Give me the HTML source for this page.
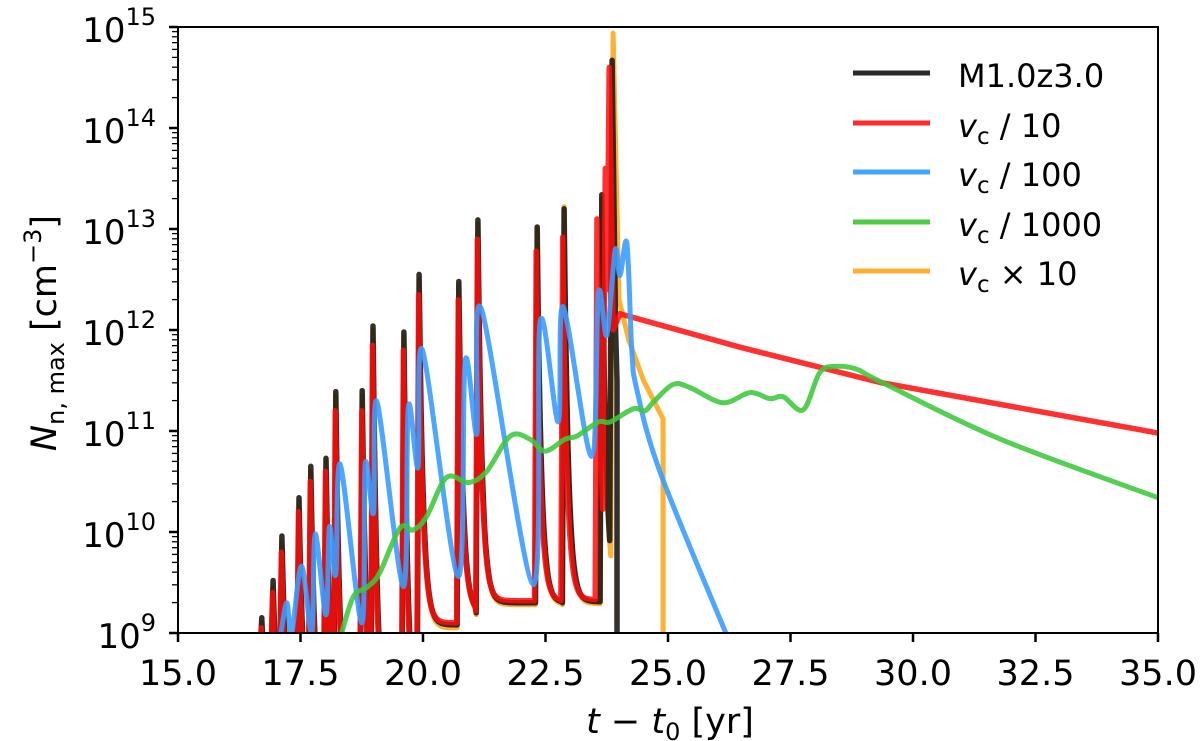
<!DOCTYPE html>
<html><head><meta charset="utf-8"><style>
body{margin:0;background:#fff;}
svg{display:block;font-family:"DejaVu Sans","Liberation Sans",sans-serif;}
</style></head><body>
<svg id="chart" width="1200" height="741" viewBox="0 0 1200 741">
<g id="plot"></g>
<g id="axes"></g>
</svg>
<script>
// ---- data ----
const xTicks=[15,17.5,20,22.5,25,27.5,30,32.5,35];
const xTickLabels=["15.0","17.5","20.0","22.5","25.0","27.5","30.0","32.5","35.0"];
const yTicks=[9,10,11,12,13,14,15];
const yTickExp=["9","10","11","12","13","14","15"];
// spiky series: peak time, peak log10, floor log10 after decay
const blackT=[16.71,16.94,17.12,17.47,17.71,18.02,18.22,18.76,18.98,19.61,19.92,20.73,21.12,22.33,22.88,23.65];
const blackPeak=[9.15,9.52,9.96,10.34,10.65,10.73,11.39,11.40,12.04,11.98,12.55,12.48,13.09,13.02,13.20,13.34];
const blackFloor=[8,8,8,8,8,8,8,8,8,8,9.08,9.2,9.3,9.3,9.31,9.3];
const blackEndT=[23.86,23.93,23.96,23.96];
const blackEndV=[14.67,12.0,11.5,8];
const redT=[16.70,16.93,17.11,17.46,17.70,18.01,18.21,18.75,18.97,19.60,19.91,20.72,21.11,22.31,22.85,23.55];
const redPeak=[9.05,9.4,9.8,10.2,10.5,10.6,11.2,11.2,11.85,11.8,12.35,12.3,12.9,12.78,12.92,13.1];
const redFloor=[8,8,8,8,8,8,8,8,8,8,9.1,9.22,9.32,9.32,9.33,9.3];
const redEndT=[23.72,23.76,23.80,23.84,23.88,24.02,26.47,29.33,32.5,35];
const redEndV=[13.6,12.4,14.6,13.4,12.0,12.16,11.83,11.48,11.2,10.98];
const orangeT=blackT.slice();
const orangePeak=[9.1,9.45,9.9,10.3,10.6,10.7,11.35,11.35,12.0,11.95,12.5,12.45,13.05,13.0,13.22,13.3];
const orangeFloor=[8,8,8,8,8,8,8,8,8,8,9.05,9.18,9.28,9.28,9.29,9.28];
const orangeEndT=[23.88,24.0,24.2,24.5,24.9,24.9];
const orangeEndV=[14.94,12.3,11.9,11.5,11.12,8];
const blueT=[17.10,17.22,17.32,17.52,17.73,17.80,18.02,18.09,18.22,18.31,18.75,18.82,18.99,19.06,19.60,19.70,19.90,19.99,20.72,20.86,21.10,21.19,22.25,22.39,22.76,22.86,23.44,23.58,23.75,23.92,24.02,24.16,24.26,24.36,24.84,26.18];
const blueV=[9.0,9.30,9.0,9.66,9.0,9.98,9.18,10.05,9.58,10.67,9.10,10.67,10.19,11.29,9.46,11.24,10.64,11.80,9.56,11.69,10.97,12.21,9.48,12.08,11.09,12.23,10.75,12.36,11.95,12.79,12.54,12.86,11.82,11.42,10.59,9.0];
const greenT=[18.34,18.58,18.88,19.12,19.53,19.80,20.07,20.48,20.93,21.30,21.78,22.18,22.49,22.90,23.14,23.58,23.82,24.29,24.53,24.69,25.10,25.45,26.12,26.67,27.08,27.35,27.76,28.10,28.45,28.86,29.33,31.78,35];
const greenV=[9.0,9.36,9.46,9.60,10.04,10.02,10.15,10.54,10.49,10.60,10.95,10.92,10.80,10.92,10.95,11.09,11.09,11.22,11.20,11.28,11.46,11.43,11.28,11.38,11.32,11.34,11.21,11.58,11.64,11.61,11.49,10.92,10.34];

// ---- scales ----
const X0=178,X1=1158,Y0=633,Y1=27;
const xs=t=>X0+(t-15)/20*(X1-X0);
const ys=v=>Y0-(v-9)/6*(Y0-Y1);
const NS="http://www.w3.org/2000/svg";
const plot=document.getElementById('plot'),axes=document.getElementById('axes');
function mk(tag,attrs,parent){const e=document.createElementNS(NS,tag);for(const k in attrs)e.setAttribute(k,attrs[k]);parent.appendChild(e);return e;}

const defs=mk('defs',{},plot);
const cp=mk('clipPath',{id:'clip'},defs);
mk('rect',{x:X0,y:Y1-12,width:X1-X0,height:Y0-Y1+12},cp);
const g=mk('g',{'clip-path':'url(#clip)'},plot);

function spikePts(T,P,F,endT,endV){
  const pts=[];let prev=8;
  for(let i=0;i<T.length;i++){
    const t=T[i];
    pts.push([t-0.035,prev]);
    pts.push([t,P[i]]);
    const nextT=(i+1<T.length)?T[i+1]:endT[0];
    for(let d=0.02;t+d<nextT-0.04;d+=0.02){
      pts.push([t+d,F[i]+(P[i]-F[i])*Math.exp(-d/0.085)]);
    }
    prev=F[i];
  }
  for(let i=0;i<endT.length;i++)pts.push([endT[i],endV[i]]);
  return pts;
}
function lineD(pts){return pts.map((p,i)=>(i?'L':'M')+xs(p[0]).toFixed(1)+','+ys(Math.max(p[1],8.8)).toFixed(1)).join('');}
function smoothD(pts){
  let d='M'+xs(pts[0][0])+','+ys(pts[0][1]);
  for(let i=0;i<pts.length-1;i++){
    const p0=pts[Math.max(i-1,0)],p1=pts[i],p2=pts[i+1],p3=pts[Math.min(i+2,pts.length-1)];
    const c1=[xs(p1[0])+(xs(p2[0])-xs(p0[0]))/6, ys(p1[1])+(ys(p2[1])-ys(p0[1]))/6];
    const c2=[xs(p2[0])-(xs(p3[0])-xs(p1[0]))/6, ys(p2[1])-(ys(p3[1])-ys(p1[1]))/6];
    d+='C'+c1[0].toFixed(1)+','+c1[1].toFixed(1)+' '+c2[0].toFixed(1)+','+c2[1].toFixed(1)+' '+xs(p2[0]).toFixed(1)+','+ys(p2[1]).toFixed(1);
  }
  return d;
}
const zip=(a,b)=>a.map((v,i)=>[v,b[i]]);

let p;
p=mk('path',{d:lineD(spikePts(orangeT,orangePeak,orangeFloor,orangeEndT,orangeEndV)),fill:'none',stroke:'#ffa81e','stroke-opacity':0.9,'stroke-width':5,'stroke-linejoin':'round'},g);


p=mk('path',{d:lineD(spikePts(blackT,blackPeak,blackFloor,blackEndT,blackEndV)),fill:'none',stroke:'#1e1a14','stroke-opacity':0.9,'stroke-width':5.5,'stroke-linejoin':'round'},g);


p=mk('path',{d:lineD(spikePts(redT,redPeak,redFloor,redEndT,redEndV)),fill:'none',stroke:'#ff0c0c','stroke-opacity':0.85,'stroke-width':5.5,'stroke-linejoin':'round'},g);


p=mk('path',{d:smoothD(zip(blueT,blueV)),fill:'none',stroke:'#3a9cff','stroke-opacity':0.9,'stroke-width':5,'stroke-linejoin':'round'},g);


p=mk('path',{d:smoothD(zip(greenT,greenV)),fill:'none',stroke:'#3cc83c','stroke-opacity':0.88,'stroke-width':5,'stroke-linejoin':'round'},g);



p=mk('rect',{x:X0,y:Y1,width:X1-X0,height:Y0-Y1,fill:'none',stroke:'#000','stroke-width':2},axes);


xTicks.forEach((t,i)=>{
  const x=xs(t);
  let e=mk('line',{x1:x,x2:x,y1:Y0,y2:Y0+9,stroke:'#000','stroke-width':2.5},axes);
  
  
  e=mk('text',{x:x,y:Y0+52,'text-anchor':'middle','font-size':35},axes);
  e.textContent=xTickLabels[i];
  
  
});
yTicks.forEach((v,i)=>{
  const y=ys(v);
  let e=mk('line',{x1:X0-9,x2:X0,y1:y,y2:y,stroke:'#000','stroke-width':2.5},axes);
  
  
  if(i<yTicks.length-1){
    for(let k=2;k<=9;k++){
      const yy=ys(v+Math.log10(k));
      const m=mk('line',{x1:X0-6,x2:X0,y1:yy,y2:yy,stroke:'#000','stroke-width':1.3},axes);
      
      
    }
  }
  e=mk('text',{x:X0-22,y:y+15,'text-anchor':'end','font-size':34},axes);
  
  
  const b=mk('tspan',{},e);b.textContent='10';
  const s=mk('tspan',{dy:-17,'font-size':24},e);s.textContent=yTickExp[i];
});
</script>
<svg style="position:absolute;left:0;top:0" width="1200" height="741">
<text x="670" y="733" text-anchor="middle" font-size="35" font-family="DejaVu Sans,sans-serif"><tspan font-style="italic">t</tspan> − <tspan font-style="italic">t</tspan><tspan font-size="24" dy="7">0</tspan><tspan dy="-7"> [yr]</tspan></text>
<text transform="translate(56,333) rotate(-90)" text-anchor="middle" font-size="35" font-family="DejaVu Sans,sans-serif"><tspan font-style="italic">N</tspan><tspan font-size="24" dy="8">n, max</tspan><tspan dy="-8"> [cm</tspan><tspan font-size="24" dy="-15">−3</tspan><tspan dy="15">]</tspan></text>
<g font-family="DejaVu Sans,sans-serif" font-size="32">
<line x1="853" x2="930" y1="73" y2="73" stroke="#2a2a2a" stroke-width="5"/>
<text x="958" y="87">M1.0z3.0</text>
<line x1="853" x2="930" y1="123" y2="123" stroke="#ff2a2a" stroke-width="5"/>
<text x="958" y="137"><tspan font-style="italic">v</tspan><tspan font-size="23" dy="7">c</tspan><tspan dy="-7"> / 10</tspan></text>
<line x1="853" x2="930" y1="172" y2="172" stroke="#44a4ff" stroke-width="5"/>
<text x="958" y="186"><tspan font-style="italic">v</tspan><tspan font-size="23" dy="7">c</tspan><tspan dy="-7"> / 100</tspan></text>
<line x1="853" x2="930" y1="222" y2="222" stroke="#4ccc44" stroke-width="5"/>
<text x="958" y="236"><tspan font-style="italic">v</tspan><tspan font-size="23" dy="7">c</tspan><tspan dy="-7"> / 1000</tspan></text>
<line x1="853" x2="930" y1="271" y2="271" stroke="#ffb030" stroke-width="5"/>
<text x="958" y="285"><tspan font-style="italic">v</tspan><tspan font-size="23" dy="7">c</tspan><tspan dy="-7"> × 10</tspan></text>
</g>
</svg>
</body></html>
